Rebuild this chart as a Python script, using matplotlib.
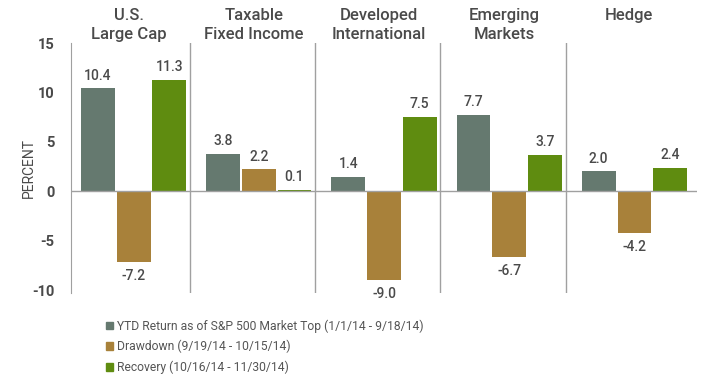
import numpy as np
import matplotlib.pyplot as plt
from matplotlib.patches import Patch

categories = ["U.S.\nLarge Cap", "Taxable\nFixed Income", "Developed\nInternational",
              "Emerging\nMarkets", "Hedge"]
ytd_return = [10.4, 3.8, 1.4, 7.7, 2.0]
drawdown = [-7.2, 2.2, -9.0, -6.7, -4.2]
recovery = [11.3, 0.1, 7.5, 3.7, 2.4]
series_labels = ["YTD Return as of S&P 500 Market Top (1/1/14 - 9/18/14)",
                 "Drawdown (9/19/14 - 10/15/14)",
                 "Recovery (10/16/14 - 11/30/14)"]
colors = ["#65796f", "#a8813a", "#5f8c10"]
yticks = [-10, -5, 0, 5, 10, 15]

plt.rcParams['font.family'] = ['Roboto', 'DejaVu Sans']
plt.rcParams['axes.unicode_minus'] = False
text_color = "#4a4a4a"
line_color = "#a0a0a0"

fig = plt.figure(figsize=(7.08, 3.82), dpi=100)
ax = fig.add_axes([0.1003, 0.233, 0.8842, 0.6544])

x = np.arange(len(categories))
width = 0.27
step = 0.285
for k, vals in enumerate([ytd_return, drawdown, recovery]):
    pos = x + (k - 1) * step
    ax.bar(pos, vals, width=width, color=colors[k], zorder=2)
    for p, v in zip(pos, vals):
        if v >= 0:
            ax.text(p, v + 0.6, f"{v:.1f}", ha='center', va='bottom',
                    fontsize=10, color=text_color, fontweight='medium')
        else:
            ax.text(p, v - 0.7, f"{v:.1f}", ha='center', va='top',
                    fontsize=10, color=text_color, fontweight='medium')

ax.set_xlim(-0.5, 4.5)
ax.set_ylim(-10.3, 15)
ax.axhline(0, color=line_color, lw=1, zorder=3)
for s in x[:-1] + 0.45:
    ax.axvline(s, color=line_color, lw=1, zorder=1)

for c, label in zip(x, categories):
    ax.text(c - 0.04, 1.14, label, ha='center', va='top', fontsize=12,
            color=text_color, fontweight='medium', linespacing=1.3,
            transform=ax.get_xaxis_transform())

for side in ['top', 'right', 'bottom']:
    ax.spines[side].set_visible(False)
ax.spines['left'].set_color(line_color)
ax.set_xticks([])
ax.set_yticks(yticks)
ax.tick_params(axis='y', length=0, pad=12, labelsize=10.5, labelcolor=text_color)
for t in ax.get_yticklabels():
    t.set_fontweight('bold')
ax.set_ylabel("PERCENT", fontsize=10, color=text_color, labelpad=-3)

handles = [Patch(color=c) for c in colors]
fig.legend(handles, series_labels, loc='upper left', bbox_to_anchor=(0.143, 0.177),
           frameon=False, fontsize=8.7, labelcolor="#555555", handlelength=0.6,
           handleheight=0.6, handletextpad=0.3, labelspacing=0.6, borderaxespad=0)

fig.savefig("out.png", dpi=100)
